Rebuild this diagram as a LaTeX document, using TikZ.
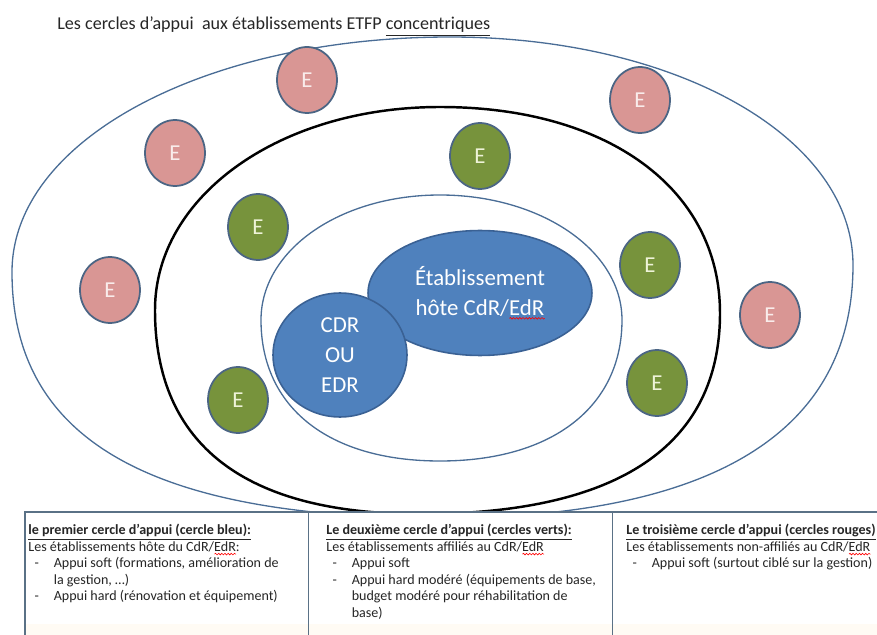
\documentclass[tikz,border=0pt]{standalone}
\usepackage{fontspec}
\setmainfont{Carlito}
\usepackage{xcolor}
\usepackage{tikz}
\usetikzlibrary{shapes.geometric,decorations.pathmorphing}

\definecolor{ringblue}{HTML}{4A6D96}
\definecolor{bluefill}{HTML}{4F81BD}
\definecolor{blueline}{HTML}{3A6194}
\definecolor{pinkfill}{HTML}{D99694}
\definecolor{pinktext}{HTML}{F9ECEB}
\definecolor{greenfill}{HTML}{77933C}
\definecolor{greentext}{HTML}{EEF3D8}
\definecolor{eline}{HTML}{4B6584}
\definecolor{boxline}{HTML}{5A7186}
\definecolor{textdark}{HTML}{262626}
\definecolor{cream}{HTML}{FFFBF4}

\newcommand\Head[1]{\underline{\textbf{#1}}}
\newcommand\Squig[1]{\setbox0\hbox{#1}\rlap{\tikz[baseline=0pt,x=1pt,y=1pt]\draw[red, line width=0.35pt, decorate, decoration={snake, amplitude=0.45pt, segment length=1.8pt}] (0,-1.6) -- (\the\wd0,-1.6);}\box0}
\newcommand\ItemDash{\hspace*{3.5pt}\makebox[11pt][l]{-}}
\newcommand\ItemGap{\hspace*{14.5pt}}

\begin{document}
\begin{tikzpicture}[x=0.02cm,y=-0.02cm,
	ecirc/.style={ellipse, draw=eline, line width=1pt, minimum width=1.2cm, minimum height=1.32cm, inner sep=0pt, font=\fontsize{13}{15}\selectfont},
	pinkE/.style={ecirc, fill=pinkfill, text=pinktext},
	greenE/.style={ecirc, fill=greenfill, text=greentext},
	host/.style={ellipse, draw=blueline, fill=bluefill, line width=0.9pt, inner sep=0pt, text=white, align=center, font=\fontsize{13}{17}\selectfont},
	coltext/.style={anchor=north west, inner sep=0pt, align=left, text=textdark, font=\fontsize{8}{9.4}\selectfont}]
	\useasboundingbox (0,0) rectangle (877,635);
	\clip (0,0) rectangle (877,635);

	\draw[ringblue, line width=0.75pt] (12,272) .. controls (12,140) and (205,37) .. (450,37)
		.. controls (676,37) and (853,137) .. (853,265)
		.. controls (853,432) and (713,518) .. (440,518)
		.. controls (149,518) and (12,439) .. (12,272) -- cycle;
	\draw[black, line width=1.4pt] (155,310) .. controls (155,196) and (280,107) .. (440,107)
		.. controls (608,107) and (720,189) .. (720,313)
		.. controls (720,446) and (618,514) .. (420,514)
		.. controls (245,514) and (155,445) .. (155,310) -- cycle;
	\draw[ringblue, line width=0.75pt] (261,320) .. controls (261,250) and (340,195) .. (440,195)
		.. controls (540,195) and (622,250) .. (622,320)
		.. controls (622,407) and (552,461) .. (440,461)
		.. controls (328,461) and (261,407) .. (261,320) -- cycle;

	\node[host, minimum width=4.48cm, minimum height=2.5cm] (hote) at (480,293) {Établissement\\hôte CdR/\Squig{EdR}};
	\node[host, minimum width=2.68cm, minimum height=2.48cm] (cdr) at (340,355) {CDR\\OU\\EDR};

	\node[pinkE] (p1) at (307,80) {E};
	\node[pinkE] (p2) at (640,100) {E};
	\node[pinkE] (p3) at (175,153) {E};
	\node[pinkE] (p4) at (110,290) {E};
	\node[pinkE] (p5) at (770,315) {E};

	\node[greenE] (g1) at (480,156) {E};
	\node[greenE] (g2) at (258,227) {E};
	\node[greenE] (g3) at (238,400) {E};
	\node[greenE] (g4) at (650,265) {E};
	\node[greenE] (g5) at (657,383) {E};

	\fill[white] (25,512) rectangle (880,640);
	\fill[cream] (25,624) rectangle (880,640);
	\draw[boxline, line width=0.5pt] (308,512) -- (308,640);
	\draw[boxline, line width=0.5pt] (612,512) -- (612,640);
	\draw[boxline, line width=1.2pt] (25,640) -- (25,512) -- (880,512);

	\node[anchor=base west, inner sep=0pt, text=textdark, font=\fontsize{10.3}{12}\selectfont] (title) at (57,30)
		{Les cercles d’appui\ \ aux établissements ETFP \underline{concentriques}};

	\node[coltext] (col1) at (28,524) {\Head{le premier cercle d’appui (cercle bleu):}\\
		Les établissements hôte du CdR/\Squig{EdR}:\\
		\ItemDash Appui soft (formations, amélioration de\\
		\ItemGap la gestion, …)\\
		\ItemDash Appui hard (rénovation et équipement)};
	\node[coltext] (col2) at (326,524) {\Head{Le deuxième cercle d’appui (cercles verts):}\\
		Les établissements affiliés au CdR/\Squig{EdR}\\
		\ItemDash Appui soft\\
		\ItemDash Appui hard modéré (équipements de base,\\
		\ItemGap budget modéré pour réhabilitation de\\
		\ItemGap base)};
	\node[coltext] (col3) at (626,524) {\Head{Le troisième cercle d’appui (cercles rouges)}\\
		Les établissements non-affiliés au CdR/\Squig{EdR}\\
		\ItemDash Appui soft (surtout ciblé sur la gestion)};
\end{tikzpicture}
\end{document}
